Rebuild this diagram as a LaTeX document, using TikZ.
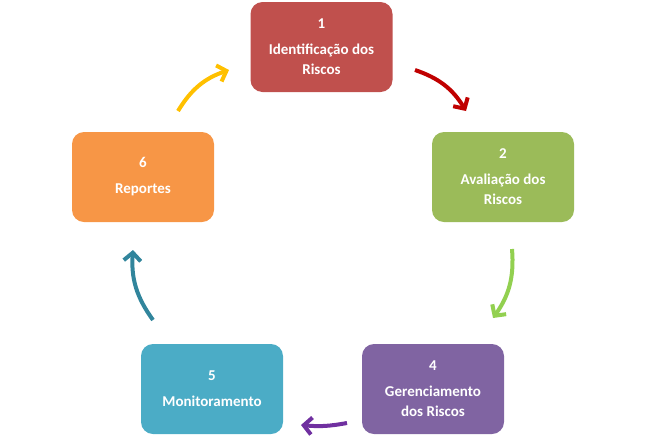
\documentclass[tikz,border=0pt]{standalone}
\usepackage{fontspec}
\setmainfont{Carlito}
\usepackage{xcolor}
\usetikzlibrary{arrows.meta}

\definecolor{passoA}{HTML}{C0504D}
\definecolor{passoB}{HTML}{9BBB59}
\definecolor{passoD}{HTML}{8064A2}
\definecolor{passoE}{HTML}{4BACC6}
\definecolor{passoF}{HTML}{F79646}
\definecolor{setaA}{HTML}{C00000}
\definecolor{setaB}{HTML}{92D050}
\definecolor{setaD}{HTML}{7030A0}
\definecolor{setaE}{HTML}{31859C}
\definecolor{setaF}{HTML}{FFC000}

\tikzset{
	passo/.style={rounded corners=12pt, minimum width=142pt, minimum height=90pt, inner sep=0pt,
		text=white, align=center, font=\bfseries\fontsize{15}{20}\selectfont},
	seta/.style={line width=4pt, -{Straight Barb[length=8pt,width=17pt]}, bend left=20}
}

\begin{document}
\begin{tikzpicture}[x=1pt,y=-1pt]
	\useasboundingbox (0,0) rectangle (646,440);
	% etapas
	\node[passo, fill=passoA] (ident) at (321.5,47) {1\\[6pt]Identificação dos\\Riscos};
	\node[passo, fill=passoB] (aval) at (503,177) {2\\[6pt]Avaliação dos\\Riscos};
	\node[passo, fill=passoD] (geren) at (433,389) {4\\[6pt]Gerenciamento\\dos Riscos};
	\node[passo, fill=passoE] (monit) at (212,389) {5\\[6pt]Monitoramento};
	\node[passo, fill=passoF] (report) at (143,177) {6\\[6pt]Reportes};
	% setas
	\coordinate (a1) at (415,70);
	\coordinate (a2) at (466,111);
	\coordinate (b1) at (512,249);
	\coordinate (b2) at (493,318);
	\coordinate (d1) at (347,423);
	\coordinate (d2) at (301,425);
	\coordinate (e1) at (153,320);
	\coordinate (e2) at (133,250);
	\coordinate (f1) at (178,111);
	\coordinate (f2) at (229,70);
	\draw[seta, setaA] (a1) to (a2);
	\draw[seta, setaB] (b1) to (b2);
	\draw[seta, setaD, bend left=8] (d1) to (d2);
	\draw[seta, setaE] (e1) to (e2);
	\draw[seta, setaF] (f1) to (f2);
\end{tikzpicture}
\end{document}
